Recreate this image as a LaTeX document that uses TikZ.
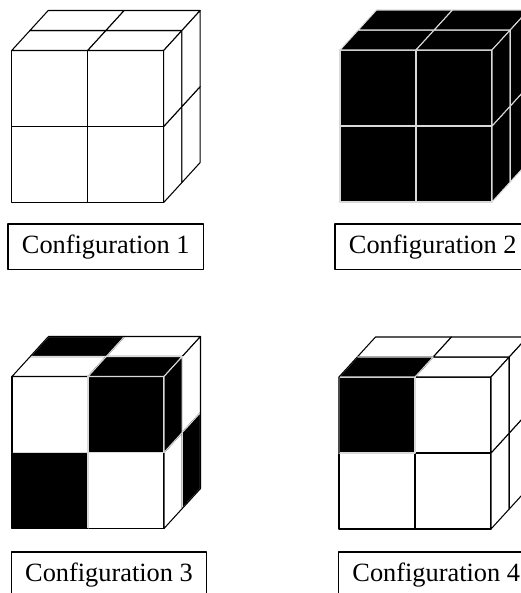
\documentclass[tikz,border=0pt]{standalone}
\usepackage{fontspec}
\setmainfont{Liberation Serif}
\tikzset{
  every picture/.style={line join=round, line cap=round},
  whiteface/.style={draw=black, fill=white, line width=0.6pt},
  blackface/.style={draw=white!85!black, fill=black, line width=0.6pt},
  cubeoutline/.style={draw=black, line width=0.6pt},
  configlabel/.style={draw=black, line width=0.6pt, minimum width=3.91cm, minimum height=0.91cm, inner sep=0pt, font=\fontsize{15}{17}\selectfont},
}

\begin{document}
\begin{tikzpicture}
\useasboundingbox (0,0) rectangle (10.42,-11.86);
% configuration 1
\begin{scope}[shift={(0.234,-4.05)}]
\draw[whiteface](0,0)--(1.52,0)--(1.52,1.52)--(0,1.52)--cycle;
\draw[whiteface](1.52,0)--(3.04,0)--(3.04,1.52)--(1.52,1.52)--cycle;
\draw[whiteface](0,1.52)--(1.52,1.52)--(1.52,3.04)--(0,3.04)--cycle;
\draw[whiteface](1.52,1.52)--(3.04,1.52)--(3.04,3.04)--(1.52,3.04)--cycle;
\draw[whiteface](0,3.04)--(1.52,3.04)--(1.885,3.44)--(0.365,3.44)--cycle;
\draw[whiteface](1.52,3.04)--(3.04,3.04)--(3.405,3.44)--(1.885,3.44)--cycle;
\draw[whiteface](0.365,3.44)--(1.885,3.44)--(2.25,3.84)--(0.73,3.84)--cycle;
\draw[whiteface](1.885,3.44)--(3.405,3.44)--(3.77,3.84)--(2.25,3.84)--cycle;
\draw[whiteface](3.04,0)--(3.405,0.40)--(3.405,1.92)--(3.04,1.52)--cycle;
\draw[whiteface](3.405,0.40)--(3.77,0.80)--(3.77,2.32)--(3.405,1.92)--cycle;
\draw[whiteface](3.04,1.52)--(3.405,1.92)--(3.405,3.44)--(3.04,3.04)--cycle;
\draw[whiteface](3.405,1.92)--(3.77,2.32)--(3.77,3.84)--(3.405,3.44)--cycle;
\end{scope}
\node[configlabel] (config1) at (2.115,-4.935) {Configuration 1};
% configuration 2
\begin{scope}[shift={(6.80,-4.04)}]
\draw[blackface](0,0)--(1.52,0)--(1.52,1.52)--(0,1.52)--cycle;
\draw[blackface](1.52,0)--(3.04,0)--(3.04,1.52)--(1.52,1.52)--cycle;
\draw[blackface](0,1.52)--(1.52,1.52)--(1.52,3.04)--(0,3.04)--cycle;
\draw[blackface](1.52,1.52)--(3.04,1.52)--(3.04,3.04)--(1.52,3.04)--cycle;
\draw[blackface](0,3.04)--(1.52,3.04)--(1.885,3.44)--(0.365,3.44)--cycle;
\draw[blackface](1.52,3.04)--(3.04,3.04)--(3.405,3.44)--(1.885,3.44)--cycle;
\draw[blackface](0.365,3.44)--(1.885,3.44)--(2.25,3.84)--(0.73,3.84)--cycle;
\draw[blackface](1.885,3.44)--(3.405,3.44)--(3.77,3.84)--(2.25,3.84)--cycle;
\draw[blackface](3.04,0)--(3.405,0.40)--(3.405,1.92)--(3.04,1.52)--cycle;
\draw[blackface](3.405,0.40)--(3.77,0.80)--(3.77,2.32)--(3.405,1.92)--cycle;
\draw[blackface](3.04,1.52)--(3.405,1.92)--(3.405,3.44)--(3.04,3.04)--cycle;
\draw[blackface](3.405,1.92)--(3.77,2.32)--(3.77,3.84)--(3.405,3.44)--cycle;
\end{scope}
\node[configlabel] (config2) at (8.655,-4.935) {Configuration 2};
% configuration 3
\begin{scope}[shift={(0.24,-10.57)}]
\draw[whiteface](1.52,0)--(3.04,0)--(3.04,1.52)--(1.52,1.52)--cycle;
\draw[whiteface](0,1.52)--(1.52,1.52)--(1.52,3.04)--(0,3.04)--cycle;
\draw[whiteface](0,3.04)--(1.52,3.04)--(1.885,3.44)--(0.365,3.44)--cycle;
\draw[whiteface](1.885,3.44)--(3.405,3.44)--(3.77,3.84)--(2.25,3.84)--cycle;
\draw[whiteface](3.04,0)--(3.405,0.40)--(3.405,1.92)--(3.04,1.52)--cycle;
\draw[whiteface](3.405,1.92)--(3.77,2.32)--(3.77,3.84)--(3.405,3.44)--cycle;
\draw[blackface](0,0)--(1.52,0)--(1.52,1.52)--(0,1.52)--cycle;
\draw[blackface](1.52,1.52)--(3.04,1.52)--(3.04,3.04)--(1.52,3.04)--cycle;
\draw[blackface](1.52,3.04)--(3.04,3.04)--(3.405,3.44)--(1.885,3.44)--cycle;
\draw[blackface](0.365,3.44)--(1.885,3.44)--(2.25,3.84)--(0.73,3.84)--cycle;
\draw[blackface](3.405,0.40)--(3.77,0.80)--(3.77,2.32)--(3.405,1.92)--cycle;
\draw[blackface](3.04,1.52)--(3.405,1.92)--(3.405,3.44)--(3.04,3.04)--cycle;
\draw[cubeoutline](0,1.52)--(0,0)--(1.52,0);
\draw[cubeoutline](3.405,0.40)--(3.77,0.80)--(3.77,2.32);
\draw[cubeoutline](0.365,3.44)--(0.73,3.84)--(2.25,3.84);
\end{scope}
\node[configlabel] (config3) at (2.18,-11.495) {Configuration 3};
% configuration 4
\begin{scope}[shift={(6.78,-10.58)}]
\draw[whiteface](0,0)--(1.52,0)--(1.52,1.52)--(0,1.52)--cycle;
\draw[whiteface](1.52,0)--(3.04,0)--(3.04,1.52)--(1.52,1.52)--cycle;
\draw[whiteface](1.52,1.52)--(3.04,1.52)--(3.04,3.04)--(1.52,3.04)--cycle;
\draw[whiteface](1.52,3.04)--(3.04,3.04)--(3.405,3.44)--(1.885,3.44)--cycle;
\draw[whiteface](0.365,3.44)--(1.885,3.44)--(2.25,3.84)--(0.73,3.84)--cycle;
\draw[whiteface](1.885,3.44)--(3.405,3.44)--(3.77,3.84)--(2.25,3.84)--cycle;
\draw[whiteface](3.04,0)--(3.405,0.40)--(3.405,1.92)--(3.04,1.52)--cycle;
\draw[whiteface](3.405,0.40)--(3.77,0.80)--(3.77,2.32)--(3.405,1.92)--cycle;
\draw[whiteface](3.04,1.52)--(3.405,1.92)--(3.405,3.44)--(3.04,3.04)--cycle;
\draw[whiteface](3.405,1.92)--(3.77,2.32)--(3.77,3.84)--(3.405,3.44)--cycle;
\draw[blackface](0,1.52)--(1.52,1.52)--(1.52,3.04)--(0,3.04)--cycle;
\draw[blackface](0,3.04)--(1.52,3.04)--(1.885,3.44)--(0.365,3.44)--cycle;
\draw[cubeoutline](0,1.52)--(0,3.04)--(0.365,3.44);
\end{scope}
\node[configlabel] (config4) at (8.725,-11.495) {Configuration 4};
\end{tikzpicture}
\end{document}
